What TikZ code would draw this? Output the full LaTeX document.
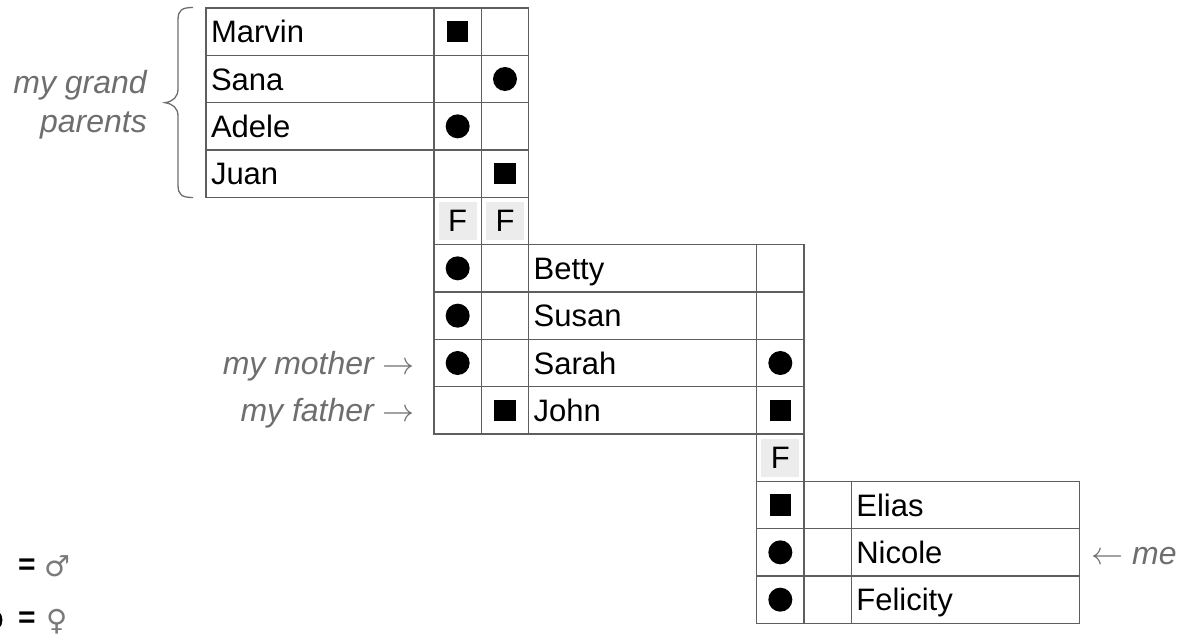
\RequirePackage{fix-cm}
\documentclass[tikz,border=0pt]{standalone}
\usepackage{fontspec}
\setmainfont{Liberation Sans}
\newfontfamily\symfont{DejaVu Sans}
\usetikzlibrary{calc}
\definecolor{gridc}{HTML}{5E5E5E}
\definecolor{lblc}{HTML}{6E6E6E}
\definecolor{symc}{HTML}{7A7A7A}
\definecolor{fboxc}{HTML}{ECECEC}
\newcommand\namefont{\fontsize{31}{35}\selectfont}
\newcommand\lblfont{\fontsize{32}{36}\selectfont\itshape}
\begin{document}
\begin{tikzpicture}[x=1pt,y=-1pt,
  cellbox/.style={draw=gridc, line width=1.2pt, anchor=north west, minimum height=47.33pt, inner sep=0pt, outer sep=0pt},
  namecell/.style={cellbox, minimum width=228pt, text width=218pt, align=left, text height=26pt, text depth=3.4pt, font=\namefont},
  smallcell/.style={cellbox, minimum width=47.33pt},
  dot/.style={circle, fill=black, minimum size=24pt, inner sep=0pt},
  sq/.style={rectangle, fill=black, minimum size=21.5pt, inner sep=0pt},
  fbox/.style={fill=fboxc, minimum size=38pt, inner sep=0pt, font=\namefont},
  lbl/.style={text=lblc, font=\lblfont, inner sep=0pt},
  gline/.style={draw=gridc, line width=1.2pt}
]
\useasboundingbox (0,0) rectangle (1181,640);

% ---------- block 1 : grandparents ----------
\node[namecell] (marvin) at (206,8) {Marvin};
\node[smallcell] (marvin1) at (434,8) {};
\node[smallcell] (marvin2) at (481.33,8) {};
\node[namecell] (sana) at (206,55.33) {Sana};
\node[smallcell] (sana1) at (434,55.33) {};
\node[smallcell] (sana2) at (481.33,55.33) {};
\node[namecell] (adele) at (206,102.67) {Adele};
\node[smallcell] (adele1) at (434,102.67) {};
\node[smallcell] (adele2) at (481.33,102.67) {};
\node[namecell] (juan) at (206,150) {Juan};
\node[smallcell] (juan1) at (434,150) {};
\node[smallcell] (juan2) at (481.33,150) {};

\node[sq] (s-marvin) at (marvin1.center) {};
\node[dot] (d-sana) at (sana2.center) {};
\node[dot] (d-adele) at (adele1.center) {};
\node[sq] (s-juan) at (juan2.center) {};

% ---------- block 2 : parents generation ----------
\node[smallcell] (betty1) at (434,244.67) {};
\node[smallcell] (betty2) at (481.33,244.67) {};
\node[namecell] (betty) at (528.67,244.67) {Betty};
\node[smallcell] (betty3) at (756.67,244.67) {};
\node[smallcell] (susan1) at (434,292) {};
\node[smallcell] (susan2) at (481.33,292) {};
\node[namecell] (susan) at (528.67,292) {Susan};
\node[smallcell] (susan3) at (756.67,292) {};
\node[smallcell] (sarah1) at (434,339.33) {};
\node[smallcell] (sarah2) at (481.33,339.33) {};
\node[namecell] (sarah) at (528.67,339.33) {Sarah};
\node[smallcell] (sarah3) at (756.67,339.33) {};
\node[smallcell] (john1) at (434,386.67) {};
\node[smallcell] (john2) at (481.33,386.67) {};
\node[namecell] (john) at (528.67,386.67) {John};
\node[smallcell] (john3) at (756.67,386.67) {};

\node[dot] (d-betty) at (betty1.center) {};
\node[dot] (d-susan) at (susan1.center) {};
\node[dot] (d-sarah) at (sarah1.center) {};
\node[sq] (s-john) at (john2.center) {};
\node[dot] (d-sarah3) at (sarah3.center) {};
\node[sq] (s-john3) at (john3.center) {};

% ---------- block 3 : my generation ----------
\node[smallcell] (elias1) at (756.67,481.33) {};
\node[smallcell] (elias2) at (804,481.33) {};
\node[namecell] (elias) at (851.33,481.33) {Elias};
\node[smallcell] (nicole1) at (756.67,528.67) {};
\node[smallcell] (nicole2) at (804,528.67) {};
\node[namecell] (nicole) at (851.33,528.67) {Nicole};
\node[smallcell] (felicity1) at (756.67,576) {};
\node[smallcell] (felicity2) at (804,576) {};
\node[namecell] (felicity) at (851.33,576) {Felicity};

\node[sq] (s-elias) at (elias1.center) {};
\node[dot] (d-nicole) at (nicole1.center) {};
\node[dot] (d-felicity) at (felicity1.center) {};

% ---------- F rows ----------
\draw[gline] (juan1.south west) -- (betty1.north west);
\draw[gline] (juan2.south west) -- (betty2.north west);
\draw[gline] (juan2.south east) -- (betty2.north east);
\draw[gline] (john3.south west) -- (elias1.north west);
\draw[gline] (john3.south east) -- (elias1.north east);

\node[fbox] (fa) at ($(juan1.south)!0.5!(betty1.north)$) {F};
\node[fbox] (fb) at ($(juan2.south)!0.5!(betty2.north)$) {F};
\node[fbox] (fc) at ($(john3.south)!0.5!(elias1.north)$) {F};

% ---------- labels ----------
\node[lbl, anchor=base east] (lgp1) at (147,93) {my grand};
\node[lbl, anchor=base east] (lgp2) at (147,132) {parents};
\draw[draw=lblc, line width=1.3pt]
  (193,7.5) .. controls (182,7.5) and (178,10) .. (178,20) -- (178,89)
  .. controls (178,97) and (173,101.5) .. (165,102.7)
  .. controls (173,104) and (178,108) .. (178,116) -- (178,185)
  .. controls (178,195) and (182,197.5) .. (193,197.5);

\node[lbl, anchor=base east] (lmother) at (415,374.5) {my mother $\rightarrow$};
\node[lbl, anchor=base east] (lfather) at (415,421.8) {my father $\rightarrow$};
\node[lbl, anchor=base west] (lme) at (1091,564.5) {$\leftarrow$ me};

% ---------- legend (cut by the picture's left edge) ----------
\node[dot] (legdot) at (-9.5,620) {};
\node[font=\fontsize{30}{34}\selectfont\bfseries, inner sep=0pt] (eq1) at (27,567) {=};
\node[font=\fontsize{30}{34}\selectfont\bfseries, inner sep=0pt] (eq2) at (27,620) {=};
\node[font=\symfont\fontsize{29}{33}\selectfont, text=symc, inner sep=0pt] (male) at (57,566) {♂};
\node[font=\symfont\fontsize{29}{33}\selectfont, text=symc, inner sep=0pt] (female) at (57,622) {♀};
\end{tikzpicture}
\end{document}
